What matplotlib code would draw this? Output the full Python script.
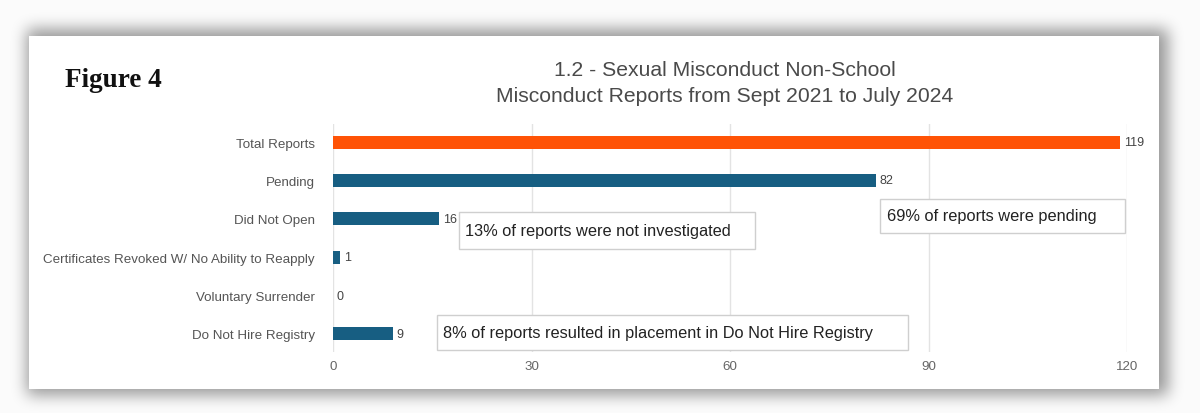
import numpy as np
import matplotlib
matplotlib.use('Agg')
import matplotlib.pyplot as plt
from matplotlib.patches import Rectangle

plt.rcParams['font.family'] = ['Liberation Sans', 'DejaVu Sans']

# data
categories = ['Total Reports', 'Pending', 'Did Not Open',
              'Certificates Revoked W/ No Ability to Reapply',
              'Voluntary Surrender', 'Do Not Hire Registry']
counts = [119, 82, 16, 1, 0, 9]
bar_colors = ['#ff5306', '#175e82', '#175e82', '#175e82', '#175e82', '#175e82']
x_ticks = [0, 30, 60, 90, 120]

title_lines = ['1.2 - Sexual Misconduct Non-School',
               'Misconduct Reports from Sept 2021 to July 2024']
notes = ['13% of reports were not investigated',
         '69% of reports were pending',
         '8% of reports resulted in placement in Do Not Hire Registry']
# note boxes (x0, x1, y0, y1) in axis units
note_boxes = [(19.0, 63.8, 1.82, 2.79),
              (82.7, 119.7, 1.48, 2.37),
              (15.7, 86.9, 4.51, 5.42)]

W, H = 1200, 414
card = (29, 37, 1159, 390)   # px: left, top, right, bottom


def blur(a, r):
    # cheap gaussian-ish blur, 3 box passes
    k = np.ones(2 * r + 1) / (2 * r + 1)
    for _ in range(3):
        a = np.apply_along_axis(lambda m: np.convolve(m, k, mode='same'), 0, a)
        a = np.apply_along_axis(lambda m: np.convolve(m, k, mode='same'), 1, a)
    return a


fig = plt.figure(figsize=(W / 100, H / 100), dpi=100)
fig.patch.set_facecolor('#fbfbfb')

# drop shadow + white card
ax_bg = fig.add_axes([0, 0, 1, 1])
mask = np.zeros((H, W))
mask[30:396, 27:1168] = 1.0
shadow = blur(mask, 7)
rgba = np.zeros((H, W, 4))
rgba[..., 3] = shadow * 0.4
ax_bg.imshow(rgba, extent=[0, W, H, 0], interpolation='bilinear')
ax_bg.add_patch(Rectangle((card[0], card[1]), card[2] - card[0], card[3] - card[1],
                          facecolor='white', edgecolor='none'))
ax_bg.set_xlim(0, W)
ax_bg.set_ylim(H, 0)
ax_bg.axis('off')

# main chart
ax = fig.add_axes([333 / W, (H - 353) / H, 794 / W, 228 / H])
ax.set_facecolor('none')
y_pos = np.arange(len(categories))
ax.barh(y_pos, counts, height=0.34, color=bar_colors, zorder=3)
for i, v in enumerate(counts):
    ax.text(v + 0.6, i, str(v), va='center', ha='left', fontsize=9, color='#444444', zorder=4)

ax.set_xlim(0, 120)
ax.set_ylim(len(categories) - 0.53, -0.47)
ax.set_xticks(x_ticks)
ax.set_yticks(y_pos)
ax.set_yticklabels(categories)
ax.grid(axis='x', color='#e3e3e3', linewidth=1, zorder=0)
for s in ax.spines.values():
    s.set_visible(False)
ax.tick_params(axis='y', length=0, pad=13, labelsize=9.6, labelcolor='#555555')
ax.tick_params(axis='x', length=0, pad=6, labelsize=9.6, labelcolor='#666666')

for txt, (x0, x1, y0, y1) in zip(notes, note_boxes):
    ax.add_patch(Rectangle((x0, y0), x1 - x0, y1 - y0, facecolor='white',
                           edgecolor='#cfcfcf', linewidth=1, zorder=5))
    ax.text(x0 + 1.0, (y0 + y1) / 2, txt, va='center', ha='left',
            fontsize=11.8, color='#222222', zorder=6)

fig.text(725 / W, 1 - 70 / H, title_lines[0], ha='center', va='center',
         fontsize=15.2, color='#4a4a4a')
fig.text(725 / W, 1 - 96 / H, title_lines[1], ha='center', va='center',
         fontsize=15.2, color='#4a4a4a')
fig.text(65 / W, 1 - 87 / H, 'Figure 4', ha='left', va='baseline',
         fontsize=19.5, fontweight='bold', family=['Liberation Serif', 'DejaVu Serif'],
         color='#111111')

fig.savefig('out.png', dpi=100)
